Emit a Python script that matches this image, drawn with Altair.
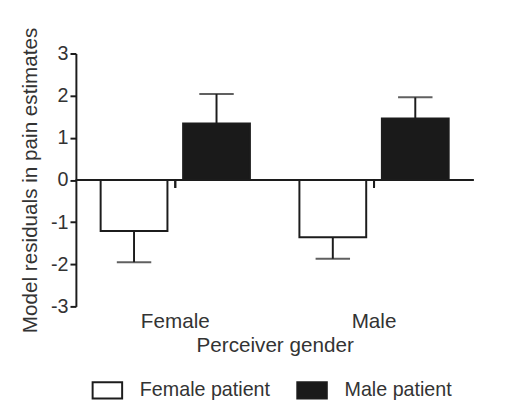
import altair as alt
import pandas as pd

perceiver = ["Female", "Female", "Male", "Male"]
patient = ["Female patient", "Male patient", "Female patient", "Male patient"]
residual = [-1.21, 1.34, -1.36, 1.46]
sem = [0.74, 0.70, 0.51, 0.50]

df = pd.DataFrame({"perceiver": perceiver, "patient": patient, "residual": residual, "sem": sem})
df["err_end"] = [r + s if r > 0 else r - s for r, s in zip(df["residual"], df["sem"])]

FONT = "Liberation Sans"
INK = "#1c1c1c"

x_enc = alt.X(
    "perceiver:N",
    title="Perceiver gender",
    scale=alt.Scale(paddingInner=0, paddingOuter=0),
    axis=alt.Axis(
        labelAngle=0, domain=False, ticks=False, tickSize=0, labelPadding=4,
        labelFontSize=21, titleFontSize=21, titlePadding=4,
    ),
)
offset_enc = alt.XOffset(
    "patient:N",
    scale=alt.Scale(domain=["Female patient", "Male patient"], paddingInner=0.19, paddingOuter=0.3),
)
y_scale = alt.Scale(domain=[-3, 3], nice=False, zero=False)

bars = alt.Chart(df).mark_bar(stroke=INK, strokeWidth=2).encode(
    x=x_enc,
    xOffset=offset_enc,
    y=alt.Y(
        "residual:Q",
        title="Model residuals in pain estimates",
        scale=y_scale,
        axis=alt.Axis(
            values=[-3, -2, -1, 0, 1, 2, 3], labelExpr="'' + datum.value",
            tickSize=6, tickWidth=2, tickColor=INK,
            domainWidth=2, domainColor=INK, labelFontSize=20, labelPadding=2,
            titleFontSize=21, titlePadding=10, grid=False,
        ),
    ),
    color=alt.Color(
        "patient:N",
        scale=alt.Scale(domain=["Female patient", "Male patient"], range=["white", "#1a1a1a"]),
        legend=alt.Legend(
            title=None, orient="none", direction="horizontal", legendX=16, legendY=326,
            symbolType="M-1,-0.55L1,-0.55L1,0.55L-1,0.55Z", symbolSize=900,
            symbolStrokeColor=INK, symbolStrokeWidth=2, labelFontSize=20,
            labelOffset=17, columnPadding=23,
        ),
    ),
)

err = alt.Chart(df).mark_rule(color=INK, strokeWidth=2).encode(
    x="perceiver:N", xOffset=offset_enc,
    y=alt.Y("residual:Q", scale=y_scale), y2="err_end:Q",
)

caps = alt.Chart(df).mark_tick(color=INK, thickness=2, size=35, orient="horizontal").encode(
    x="perceiver:N", xOffset=offset_enc,
    y=alt.Y("err_end:Q", scale=y_scale),
)

zero_line = alt.Chart(df).mark_rule(color=INK, strokeWidth=2).encode(y=alt.datum(0))

x_ticks = alt.Chart(df).mark_rule(color=INK, strokeWidth=2).encode(
    x="perceiver:N", y=alt.datum(0), y2=alt.datum(-0.19),
)

chart = (
    alt.layer(bars, err, caps, zero_line, x_ticks)
    .properties(
        width=404, height=257,
        autosize=alt.AutoSizeParams(type="none"),
        padding={"left": 69, "top": 43, "right": 27, "bottom": 100},
        background="white",
    )
    .configure_view(stroke=None)
    .configure_axis(labelFont=FONT, titleFont=FONT, labelColor="#333", titleColor="#333", titleFontWeight="normal")
    .configure_legend(labelFont=FONT, labelColor="#333")
)

chart.save("out.html", embed_options={"renderer": "svg", "actions": False})
